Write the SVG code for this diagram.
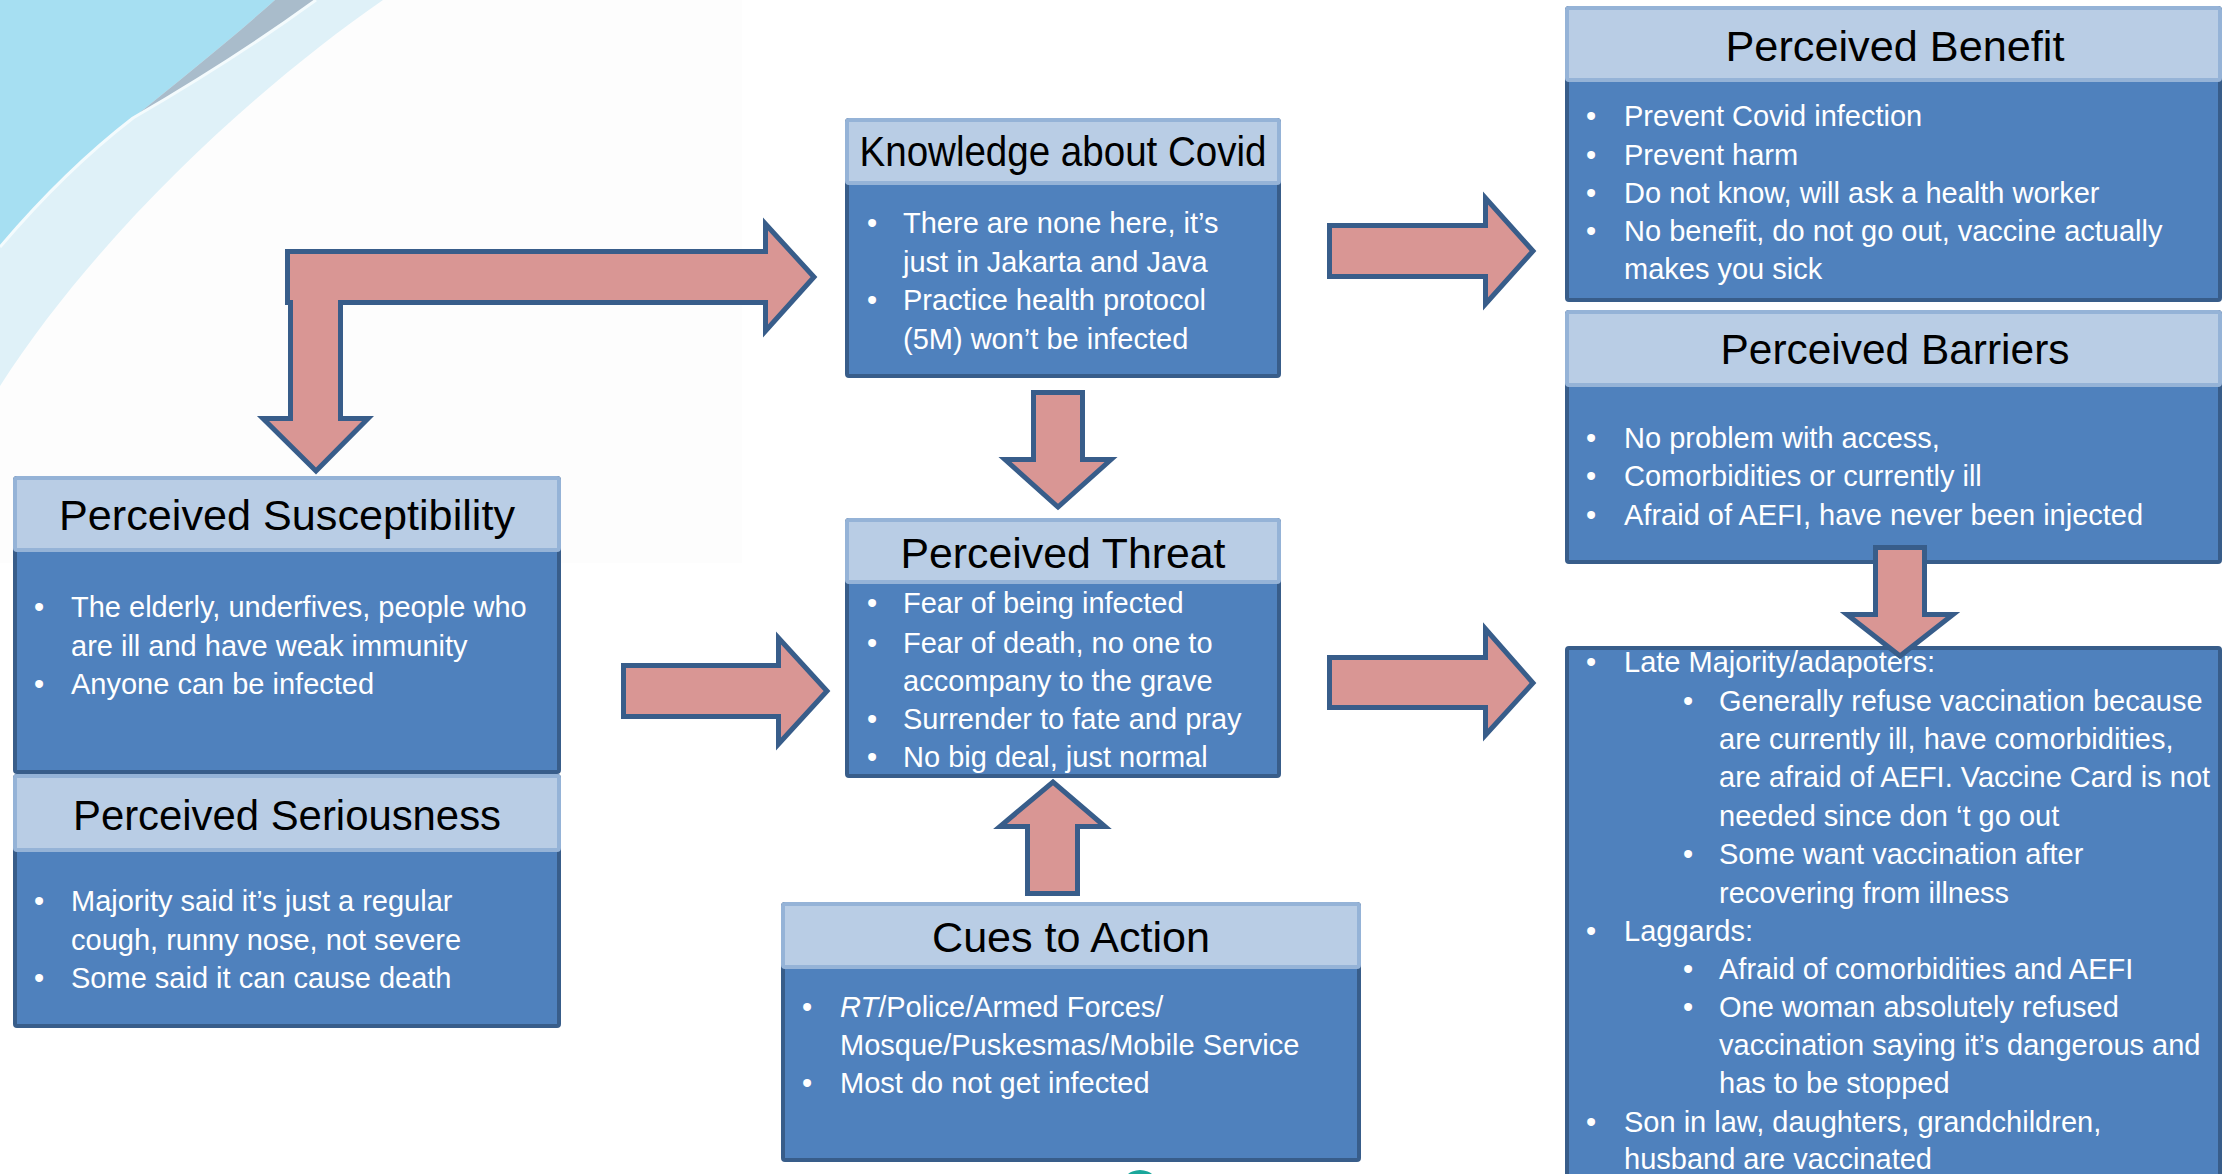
<svg xmlns="http://www.w3.org/2000/svg" width="2223" height="1174" viewBox="0 0 2223 1174">
<style>
.hd{fill:#b9cde5;stroke:#95b3d7;stroke-width:4}
.bd{fill:#4f81bd;stroke:#385d8a;stroke-width:4}
.ttl{font-family:"Liberation Sans",Arial,sans-serif;font-size:43px;fill:#000;text-anchor:middle}
.tx{font-family:"Liberation Sans",Arial,sans-serif;font-size:29px;fill:#fff}
.arr{fill:#d99694;stroke:#385d8a;stroke-width:5;stroke-linejoin:miter}
</style>
<g id="background">
<rect x="0" y="0" width="2223" height="1174" fill="#ffffff"/>
<rect x="0" y="0" width="742" height="563" fill="#fdfdfd"/>
<path d="M0,0 L383,0 C260,85 100,230 0,386 Z" fill="#dff1f8"/>
<path d="M0,0 L275,0 C230,40 180,80 133,118 C85,155 40,200 0,247 Z" fill="#a6dff2"/>
<path d="M275,0 L316,0 C250,48 190,85 133,118 C180,80 230,40 275,0 Z" fill="#a9bccb"/>
<path d="M316,0 C250,48 190,85 133,118 C85,155 40,200 0,247" fill="none" stroke="#f4fbfd" stroke-width="3"/>
<circle cx="1140" cy="1190" r="20" fill="#1aa79b"/>
</g>
<g id="node-susceptibility">
<rect class="bd" x="15" y="478" width="544" height="294" rx="2"/>
<rect class="hd" x="15" y="478" width="544" height="72" rx="2"/>
<text class="ttl" x="287" y="530" textLength="456" lengthAdjust="spacingAndGlyphs">Perceived Susceptibility</text>
<text class="tx" x="34" y="617">•</text><text class="tx" x="71" y="617">The elderly, underfives, people who</text>
<text class="tx" x="71" y="656">are ill and have weak immunity</text>
<text class="tx" x="34" y="694">•</text><text class="tx" x="71" y="694">Anyone can be infected</text>
</g>
<g id="node-seriousness">
<rect class="bd" x="15" y="776" width="544" height="250" rx="2"/>
<rect class="hd" x="15" y="776" width="544" height="74" rx="2"/>
<text class="ttl" x="287" y="830" textLength="428" lengthAdjust="spacingAndGlyphs">Perceived Seriousness</text>
<text class="tx" x="34" y="911">•</text><text class="tx" x="71" y="911">Majority said it’s just a regular</text>
<text class="tx" x="71" y="950">cough, runny nose, not severe</text>
<text class="tx" x="34" y="988">•</text><text class="tx" x="71" y="988">Some said it can cause death</text>
</g>
<g id="node-knowledge">
<rect class="bd" x="847" y="120" width="432" height="256" rx="2"/>
<rect class="hd" x="847" y="120" width="432" height="63" rx="2"/>
<text class="ttl" x="1063" y="166" textLength="407" lengthAdjust="spacingAndGlyphs">Knowledge about Covid</text>
<text class="tx" x="867" y="233">•</text><text class="tx" x="903" y="233">There are none here, it’s</text>
<text class="tx" x="903" y="272">just in Jakarta and Java</text>
<text class="tx" x="867" y="310">•</text><text class="tx" x="903" y="310">Practice health protocol</text>
<text class="tx" x="903" y="349">(5M) won’t be infected</text>
</g>
<g id="node-threat">
<rect class="bd" x="847" y="520" width="432" height="256" rx="2"/>
<rect class="hd" x="847" y="520" width="432" height="62" rx="2"/>
<text class="ttl" x="1063" y="568" textLength="325" lengthAdjust="spacingAndGlyphs">Perceived Threat</text>
<text class="tx" x="867" y="613">•</text><text class="tx" x="903" y="613">Fear of being infected</text>
<text class="tx" x="867" y="653">•</text><text class="tx" x="903" y="653">Fear of death, no one to</text>
<text class="tx" x="903" y="691">accompany to the grave</text>
<text class="tx" x="867" y="729">•</text><text class="tx" x="903" y="729">Surrender to fate and pray</text>
<text class="tx" x="867" y="767">•</text><text class="tx" x="903" y="767">No big deal, just normal</text>
</g>
<g id="node-cues">
<rect class="bd" x="783" y="904" width="576" height="256" rx="2"/>
<rect class="hd" x="783" y="904" width="576" height="63" rx="2"/>
<text class="ttl" x="1071" y="952" textLength="278" lengthAdjust="spacingAndGlyphs">Cues to Action</text>
<text class="tx" x="802" y="1017">•</text><text class="tx" x="840" y="1017"><tspan font-style="italic">RT</tspan>/Police/Armed Forces/</text>
<text class="tx" x="840" y="1055">Mosque/Puskesmas/Mobile Service</text>
<text class="tx" x="802" y="1093">•</text><text class="tx" x="840" y="1093">Most do not get infected</text>
</g>
<g id="node-benefit">
<rect class="bd" x="1567" y="8" width="653" height="292" rx="2"/>
<rect class="hd" x="1567" y="8" width="653" height="72" rx="2"/>
<text class="ttl" x="1895" y="61" textLength="339" lengthAdjust="spacingAndGlyphs">Perceived Benefit</text>
<text class="tx" x="1586" y="126">•</text><text class="tx" x="1624" y="126">Prevent Covid infection</text>
<text class="tx" x="1586" y="165">•</text><text class="tx" x="1624" y="165">Prevent harm</text>
<text class="tx" x="1586" y="203">•</text><text class="tx" x="1624" y="203">Do not know, will ask a health worker</text>
<text class="tx" x="1586" y="241">•</text><text class="tx" x="1624" y="241">No benefit, do not go out, vaccine actually</text>
<text class="tx" x="1624" y="279">makes you sick</text>
</g>
<g id="node-barriers">
<rect class="bd" x="1567" y="312" width="653" height="250" rx="2"/>
<rect class="hd" x="1567" y="312" width="653" height="73" rx="2"/>
<text class="ttl" x="1895" y="364" textLength="349" lengthAdjust="spacingAndGlyphs">Perceived Barriers</text>
<text class="tx" x="1586" y="448">•</text><text class="tx" x="1624" y="448">No problem with access,</text>
<text class="tx" x="1586" y="486">•</text><text class="tx" x="1624" y="486">Comorbidities or currently ill</text>
<text class="tx" x="1586" y="525">•</text><text class="tx" x="1624" y="525">Afraid of AEFI, have never been injected</text>
</g>
<g id="node-adopters">
<rect class="bd" x="1567" y="648" width="653" height="560" rx="2"/>
<text class="tx" x="1586" y="672">•</text><text class="tx" x="1624" y="672">Late Majority/adapoters:</text>
<text class="tx" x="1683" y="711">•</text><text class="tx" x="1719" y="711">Generally refuse vaccination because</text>
<text class="tx" x="1719" y="749">are currently ill, have comorbidities,</text>
<text class="tx" x="1719" y="787">are afraid of AEFI. Vaccine Card is not</text>
<text class="tx" x="1719" y="826">needed since don ‘t go out</text>
<text class="tx" x="1683" y="864">•</text><text class="tx" x="1719" y="864">Some want vaccination after</text>
<text class="tx" x="1719" y="903">recovering from illness</text>
<text class="tx" x="1586" y="941">•</text><text class="tx" x="1624" y="941">Laggards:</text>
<text class="tx" x="1683" y="979">•</text><text class="tx" x="1719" y="979">Afraid of comorbidities and AEFI</text>
<text class="tx" x="1683" y="1017">•</text><text class="tx" x="1719" y="1017">One woman absolutely refused</text>
<text class="tx" x="1719" y="1055">vaccination saying it’s dangerous and</text>
<text class="tx" x="1719" y="1093">has to be stopped</text>
<text class="tx" x="1586" y="1132">•</text><text class="tx" x="1624" y="1132">Son in law, daughters, grandchildren,</text>
<text class="tx" x="1624" y="1169">husband are vaccinated</text>
</g>
<g id="connectors">
<path class="arr" d="M287.5,251.5 L765.5,251.5 L765.5,224 L814,277 L765.5,331 L765.5,302.5 L340.5,302.5 L340.5,418.5 L368,418.5 L316,471 L263,418.5 L290.5,418.5 L290.5,302.5 L287.5,302.5 Z"/>
<path class="arr" d="M1329.5,225.5 L1485.5,225.5 L1485.5,198 L1533,251 L1485.5,304 L1485.5,276.5 L1329.5,276.5 Z"/>
<path class="arr" d="M1329.5,657.5 L1485.5,657.5 L1485.5,629 L1533,683 L1485.5,735 L1485.5,707.5 L1329.5,707.5 Z"/>
<path class="arr" d="M623.5,665.5 L778.5,665.5 L778.5,638 L827,691 L778.5,744 L778.5,716.5 L623.5,716.5 Z"/>
<path class="arr" d="M1033.5,392.5 L1082.5,392.5 L1082.5,459.5 L1111,459.5 L1058,507 L1005,459.5 L1033.5,459.5 Z"/>
<path class="arr" d="M1027.5,893.5 L1077.5,893.5 L1077.5,826.5 L1105,826.5 L1053,782 L1000,826.5 L1027.5,826.5 Z"/>
<path class="arr" d="M1875.5,547.5 L1924.5,547.5 L1924.5,614.5 L1953,614.5 L1900,656 L1847,614.5 L1875.5,614.5 Z"/>
</g>
</svg>
